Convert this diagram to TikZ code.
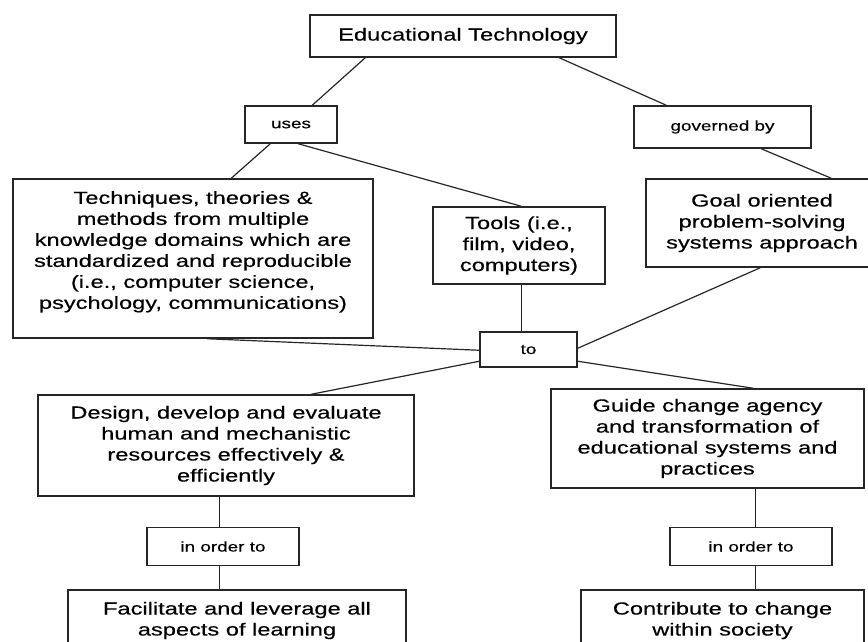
\documentclass[tikz,border=0pt]{standalone}
\usepackage{fontspec}
\setmainfont[FakeStretch=1.35, FakeBold=0.4]{Liberation Sans}
\usetikzlibrary{positioning, calc}

\begin{document}
\begin{tikzpicture}[
    x=1pt, y=-1pt,
    concept/.style={rectangle, draw=black!85, line width=1.5pt, inner sep=0pt, align=center, font=\fontsize{17.5}{21}\selectfont},
    linkbox/.style={rectangle, draw=black!85, line width=1.5pt, inner sep=0pt, align=center, font=\fontsize{14}{16}\selectfont},
    link/.style={line width=1.2pt, draw=black!85}
]
\useasboundingbox (0,0) rectangle (868,641);
\clip (0,0) rectangle (868,641);

\node (title) [concept, minimum width=306pt, minimum height=42pt] at (463,36) {Educational Technology};
\node (uses) [linkbox, minimum width=92pt, minimum height=37pt] at (291,124.5) {uses};
\node (governed) [linkbox, minimum width=177pt, minimum height=42pt] at (722.5,127) {governed by};
\node (techniques) [concept, minimum width=360pt, minimum height=159pt, text depth=17pt] at (193,258.5) {Techniques, theories \&\\methods from multiple\\knowledge domains which are\\standardized and reproducible\\(i.e., computer science,\\psychology, communications)};
\node (tools) [concept, minimum width=172pt, minimum height=77pt] at (519,245.5) {Tools (i.e.,\\film, video,\\computers)};
\node (goal) [concept, minimum width=232pt, minimum height=88pt] at (762,223) {Goal oriented\\problem-solving\\systems approach};
\node (to) [linkbox, minimum width=97pt, minimum height=35pt] at (528.5,349.5) {to};
\node (design) [concept, minimum width=376pt, minimum height=101pt] at (226,445.5) {Design, develop and evaluate\\human and mechanistic\\resources effectively \&\\efficiently};
\node (guide) [concept, minimum width=313pt, minimum height=99pt] at (707.5,438.5) {Guide change agency\\and transformation of\\educational systems and\\practices};
\node (inorder1) [linkbox, minimum width=152pt, minimum height=38pt, below=30pt of design, xshift=-3pt] {in order to};
\node (facilitate) [concept, minimum width=338pt, minimum height=61pt, below=23pt of inorder1, xshift=14pt] {Facilitate and leverage all\\aspects of learning};
\node (inorder2) [linkbox, minimum width=162pt, minimum height=38pt, below=38pt of guide, xshift=43.5pt] {in order to};
\node (contribute) [concept, minimum width=283pt, minimum height=61pt, below=23pt of inorder2, xshift=-28.5pt] {Contribute to change\\within society};

% upper links
\draw [link] ($(title.south west)+(56,0)$) -- ($(uses.north west)+(68,0)$);
\draw [link] ($(title.south west)+(250,0)$) -- ($(governed.north west)+(33,0)$);
\draw [link] ($(uses.south west)+(26,0)$) -- ($(techniques.north west)+(219,0)$);
\draw [link] ($(uses.south west)+(54,0)$) -- ($(tools.north west)+(89,0)$);
\draw [link] ($(governed.south west)+(128,0)$) -- ($(goal.north west)+(186,0)$);

% into "to"
\draw [link] ($(tools.south west)+(89,0)$) -- ($(to.north west)+(42,0)$);
\draw [link] ($(goal.south west)+(115,0)$) -- ($(to.north east)+(0,17)$);
\draw [link] ($(techniques.south west)+(195,0)$) -- ($(to.north west)+(0,19)$);

% out of "to"
\draw [link] ($(to.north west)+(0,30)$) -- ($(design.north west)+(274,0)$);
\draw [link] ($(to.north east)+(0,30)$) -- ($(guide.north west)+(203,0)$);

% lower chains
\draw [link] ($(design.south west)+(182,0)$) -- ($(inorder1.north west)+(73,0)$);
\draw [link] ($(inorder1.south west)+(73,0)$) -- ($(facilitate.north west)+(152,0)$);
\draw [link] ($(guide.south west)+(205,0)$) -- ($(inorder2.north west)+(86,0)$);
\draw [link] ($(inorder2.south west)+(86,0)$) -- ($(contribute.north west)+(175,0)$);

\end{tikzpicture}
\end{document}
